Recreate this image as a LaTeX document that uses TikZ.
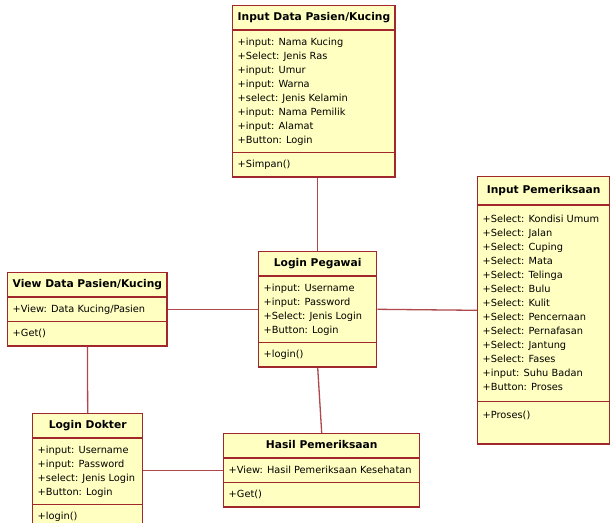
\documentclass[tikz,border=0pt]{standalone}
\usepackage{fontspec}
\setmainfont{DejaVu Sans}
\usepackage{tikz}
\usetikzlibrary{shapes.multipart}
\usetikzlibrary{positioning}
\definecolor{umlRed}{RGB}{160,40,45}
\definecolor{umlYellow}{RGB}{255,255,194}
\tikzstyle{umlClass} = [rectangle split, rectangle split parts=3, rectangle split part align={center,left,left}, draw=umlRed, fill=umlYellow, line width=1.4pt, anchor=north west, align=left, inner xsep=5pt, inner ysep=4.5pt, font=\fontsize{9.8}{14}\selectfont]
\tikzstyle{assoc} = [draw=umlRed!85!white, line width=1.3pt]
\newcommand{\clsName}[1]{\strut\textbf{\fontsize{10.7}{14}\selectfont #1}}

\begin{document}
\begin{tikzpicture}[x=1pt, y=-1pt]
    \useasboundingbox (0,0) rectangle (610,522);
    \node (pasien) [umlClass, minimum width=162pt] at (232,5) {\clsName{Input Data Pasien/Kucing}
        \nodepart{second}\strut+input: Nama Kucing\\+Select: Jenis Ras\\+input: Umur\\+input: Warna\\+select: Jenis Kelamin\\+input: Nama Pemilik\\+input: Alamat\\+Button: Login\strut
        \nodepart{third}\strut+Simpan()};
    \node (pemeriksaan) [umlClass, minimum width=132pt, inner ysep=6.5pt] at (477,176) {\clsName{Input Pemeriksaan}
        \nodepart{second}\strut+Select: Kondisi Umum\\+Select: Jalan\\+Select: Cuping\\+Select: Mata\\+Select: Telinga\\+Select: Bulu\\+Select: Kulit\\+Select: Pencernaan\\+Select: Pernafasan\\+Select: Jantung\\+Select: Fases\\+input: Suhu Badan\\+Button: Proses\strut
        \nodepart{third}\strut+Proses()\\\strut};
    \node (pegawai) [umlClass, minimum width=118pt] at (258,251) {\clsName{Login Pegawai}
        \nodepart{second}\strut+input: Username\\+input: Password\\+Select: Jenis Login\\+Button: Login\strut
        \nodepart{third}\strut+login()};
    \node (view) [umlClass, minimum width=156pt] at (7,272) {\clsName{View Data Pasien/Kucing}
        \nodepart{second}\strut+View: Data Kucing/Pasien
        \nodepart{third}\strut+Get()};
    \node (dokter) [umlClass, minimum width=110pt] at (32,413) {\clsName{Login Dokter}
        \nodepart{second}\strut+input: Username\\+input: Password\\+select: Jenis Login\\+Button: Login\strut
        \nodepart{third}\strut+login()};
    \node (hasil) [umlClass, minimum width=196pt] at (223,433) {\clsName{Hasil Pemeriksaan}
        \nodepart{second}\strut+View: Hasil Pemeriksaan Kesehatan
        \nodepart{third}\strut+Get()};
    \draw [assoc] (pegawai.north |- pasien.south) -- (pegawai.north);
    \draw [assoc] (view.east) -- (pegawai.west);
    \draw [assoc] (pegawai.east) -- (pemeriksaan.west);
    \draw [assoc] (view.south) -- (dokter.north);
    \draw [assoc] (pegawai.south) -- (hasil.north);
    \draw [assoc] (dokter.east |- hasil.west) -- (hasil.west);
\end{tikzpicture}
\end{document}
